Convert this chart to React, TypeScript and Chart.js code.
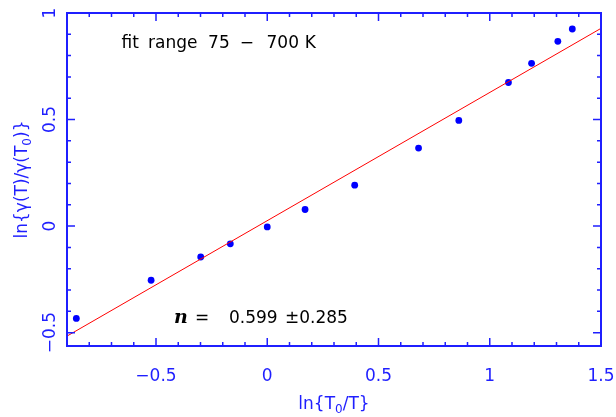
import React, { useEffect, useRef } from 'react';
import { Chart, registerables } from 'chart.js';

Chart.register(...registerables);

// ---- data ----
const xValues = [-0.858, -0.522, -0.299, -0.166, 0.0, 0.17, 0.393, 0.68, 0.861, 1.084, 1.188, 1.306, 1.371];
const yValues = [-0.433, -0.254, -0.145, -0.083, -0.004, 0.078, 0.192, 0.366, 0.496, 0.674, 0.764, 0.867, 0.925];
const fitX = [-0.9, 1.5];
const fitY = [-0.516, 0.928];
const xRange = [-0.9, 1.5];
const yRange = [-0.5625, 1];
const xMajorTicks = [-0.5, 0, 0.5, 1, 1.5];
const yMajorTicks = [-0.5, 0, 0.5, 1];
const minorStep = 0.1;
const xTitleParts: [string, boolean][] = [['ln{T', false], ['0', true], ['/T}', false]];
const yTitleParts: [string, boolean][] = [['ln{\u03B3(T)/\u03B3(T', false], ['0', true], [')}', false]];
const fitRangeParts = ['fit', 'range', '75', '\u2212', '700', 'K'];
const nLabel = 'n';
const nValue = '0.599';
const nError = '\u00B10.285';

const AXIS = '#1f1fff';
const POINT = '#0000ff';
const LINE = '#ff0000';
const FONT = '"DejaVu Sans", sans-serif';

const minorValues = (lo: number, hi: number) => {
  const out: number[] = [];
  for (let k = Math.ceil(lo / minorStep - 1e-9); k <= Math.floor(hi / minorStep + 1e-9); k++) {
    out.push(Math.round(k * minorStep * 1000) / 1000);
  }
  return out;
};
const isMajor = (v: number, majors: number[]) => majors.some((m) => Math.abs(m - v) < 1e-6);
const fmt = (v: number) => {
  if (Math.abs(v) < 1e-9) return '0';
  return (v < 0 ? '\u2212' : '') + String(Math.abs(v));
};

function drawRich(ctx: CanvasRenderingContext2D, parts: [string, boolean][], cx: number, cy: number) {
  const big = `17px ${FONT}`;
  const small = `12px ${FONT}`;
  let total = 0;
  const widths = parts.map(([t, sub]) => {
    ctx.font = sub ? small : big;
    const w = ctx.measureText(t).width;
    total += w;
    return w;
  });
  let x = cx - total / 2;
  ctx.textAlign = 'left';
  ctx.textBaseline = 'alphabetic';
  parts.forEach(([t, sub], i) => {
    ctx.font = sub ? small : big;
    ctx.fillText(t, x, cy + (sub ? 4 : 0));
    x += widths[i];
  });
}

const framePlugin = {
  id: 'frame',
  afterDraw(chart: any) {
    const { ctx, chartArea: a, scales } = chart;
    const xs = scales.x;
    const ys = scales.y;
    ctx.save();
    // box
    ctx.strokeStyle = AXIS;
    ctx.lineWidth = 2;
    ctx.strokeRect(a.left, a.top, a.right - a.left, a.bottom - a.top);
    // ticks
    ctx.lineWidth = 1.5;
    ctx.beginPath();
    for (const v of minorValues(xs.min, xs.max)) {
      const len = isMajor(v, xMajorTicks) ? 8 : 4;
      const px = xs.getPixelForValue(v);
      ctx.moveTo(px, a.bottom);
      ctx.lineTo(px, a.bottom - len);
      ctx.moveTo(px, a.top);
      ctx.lineTo(px, a.top + len);
    }
    for (const v of minorValues(ys.min, ys.max)) {
      const len = isMajor(v, yMajorTicks) ? 8 : 4;
      const py = ys.getPixelForValue(v);
      ctx.moveTo(a.left, py);
      ctx.lineTo(a.left + len, py);
      ctx.moveTo(a.right, py);
      ctx.lineTo(a.right - len, py);
    }
    ctx.stroke();

    // tick labels
    ctx.fillStyle = AXIS;
    ctx.font = `17px ${FONT}`;
    ctx.textAlign = 'center';
    ctx.textBaseline = 'alphabetic';
    for (const v of xMajorTicks) {
      ctx.fillText(fmt(v), xs.getPixelForValue(v), a.bottom + 35);
    }
    for (const v of yMajorTicks) {
      const py = ys.getPixelForValue(v);
      ctx.save();
      ctx.translate(a.left - 12, py);
      ctx.rotate(-Math.PI / 2);
      ctx.fillText(fmt(v), 0, 0);
      ctx.restore();
    }

    // axis titles
    drawRich(ctx, xTitleParts, (a.left + a.right) / 2, a.bottom + 63);
    ctx.save();
    ctx.translate(a.left - 40, (a.top + a.bottom) / 2);
    ctx.rotate(-Math.PI / 2);
    drawRich(ctx, yTitleParts, 0, 0);
    ctx.restore();

    // annotations
    ctx.fillStyle = '#000000';
    ctx.font = `17px ${FONT}`;
    ctx.textAlign = 'left';
    const offs = [0, 26.6, 86.6, 118.3, 145, 183.3];
    fitRangeParts.forEach((p, i) => ctx.fillText(p, a.left + 54.5 + offs[i], a.top + 35));

    const by = a.top + 310;
    ctx.font = `bold italic 19px "DejaVu Serif", serif`;
    ctx.fillText(nLabel, a.left + 107, by);
    ctx.font = `17px ${FONT}`;
    ctx.fillText('=', a.left + 128, by);
    ctx.fillText(nValue, a.left + 162, by);
    ctx.fillText(nError, a.left + 218, by);
    ctx.restore();
  },
};

export default function App() {
  const ref = useRef<HTMLCanvasElement | null>(null);
  useEffect(() => {
    document.body.style.margin = '0';
    const canvas = ref.current;
    if (!canvas) return;
    const chart = new Chart(canvas, {
      type: 'scatter',
      data: {
        datasets: [
          {
            label: 'fit',
            data: fitX.map((x, i) => ({ x, y: fitY[i] })),
            showLine: true,
            borderColor: LINE,
            borderWidth: 1,
            pointRadius: 0,
            fill: false,
          },
          {
            label: 'data',
            data: xValues.map((x, i) => ({ x, y: yValues[i] })),
            pointRadius: 3.4,
            pointBackgroundColor: POINT,
            pointBorderWidth: 0,
            backgroundColor: POINT,
            borderColor: POINT,
            showLine: false,
          },
        ],
      },
      options: {
        animation: false,
        responsive: true,
        maintainAspectRatio: false,
        layout: { padding: { top: 13, right: 15, left: 0, bottom: 0 } },
        plugins: { legend: { display: false }, tooltip: { enabled: false } },
        scales: {
          x: {
            type: 'linear',
            min: xRange[0],
            max: xRange[1],
            ticks: { display: false },
            grid: { display: false },
            border: { display: false },
            afterFit: (s: any) => {
              s.height = 71;
              s.paddingLeft = 0;
              s.paddingRight = 0;
            },
          },
          y: {
            type: 'linear',
            min: yRange[0],
            max: yRange[1],
            ticks: { display: false },
            grid: { display: false },
            border: { display: false },
            afterFit: (s: any) => {
              s.width = 67;
              s.paddingTop = 0;
              s.paddingBottom = 0;
            },
          },
        },
      },
      plugins: [framePlugin],
    });
    return () => chart.destroy();
  }, []);
  return (
    <div style={{ position: 'relative', width: 616, height: 417 }}>
      <canvas ref={ref} style={{ display: 'block' }} />
    </div>
  );
}
